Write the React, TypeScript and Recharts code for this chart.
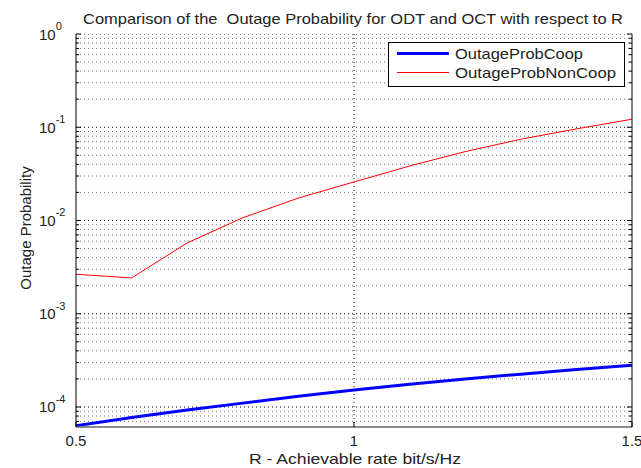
import React from 'react';
import { LineChart, Line, XAxis, YAxis, ReferenceLine } from 'recharts';

// ---- data ----
const rates = [0.5, 0.6, 0.7, 0.8, 0.9, 1.0, 1.1, 1.2, 1.3, 1.4, 1.5];
const outageCoop = [6.3e-5, 7.7e-5, 9.3e-5, 1.1e-4, 1.3e-4, 1.52e-4, 1.75e-4, 1.99e-4, 2.25e-4, 2.52e-4, 2.8e-4];
const outageNonCoop = [2.65e-3, 2.42e-3, 5.75e-3, 1.07e-2, 1.74e-2, 2.59e-2, 3.84e-2, 5.48e-2, 7.44e-2, 9.6e-2, 0.122];

const xTicks = [0.5, 1, 1.5];
const yMajorTicks = [1e-4, 1e-3, 1e-2, 1e-1, 1];
const yMinorTicks = [
  7e-5, 8e-5, 9e-5,
  2e-4, 3e-4, 4e-4, 5e-4, 6e-4, 7e-4, 8e-4, 9e-4,
  2e-3, 3e-3, 4e-3, 5e-3, 6e-3, 7e-3, 8e-3, 9e-3,
  2e-2, 3e-2, 4e-2, 5e-2, 6e-2, 7e-2, 8e-2, 9e-2,
  2e-1, 3e-1, 4e-1, 5e-1, 6e-1, 7e-1, 8e-1, 9e-1,
];
const yAllTicks = [...yMinorTicks, ...yMajorTicks].sort((a, b) => a - b);
const yDomain = [6.1e-5, 1];

const titleText = 'Comparison of the  Outage Probability for ODT and OCT with respect to R';
const xLabel = 'R - Achievable rate bit/s/Hz';
const yLabel = 'Outage Probability';
const seriesNames = ['OutageProbCoop', 'OutageProbNonCoop'];
const seriesColors = ['#0000ff', '#ff0000'];
const seriesWidths = [3, 1];

const data = rates.map((r, i) => ({ r, coop: outageCoop[i], noncoop: outageNonCoop[i] }));

const FONT = '"Liberation Sans", Arial, Helvetica, sans-serif';
const TEXT = '#222';

const isMajor = (v: number) => Math.abs(Math.log10(v) - Math.round(Math.log10(v))) < 1e-9;

const LeftYTick = (props: any) => {
  const { x, y, payload } = props;
  const v = payload.value;
  const major = isMajor(v);
  const len = major ? 5 : 3;
  return (
    <g>
      <line x1={x} x2={x + len} y1={y} y2={y} stroke="#000" strokeWidth={1} />
      {major && (
        <text x={x - 37} y={y + 5.5} fontSize={15} fill={TEXT} fontFamily={FONT}>
          10
          <tspan dy={-9.5} fontSize={11}>{String(Math.round(Math.log10(v)))}</tspan>
        </text>
      )}
    </g>
  );
};

const RightYTick = (props: any) => {
  const { x, y, payload } = props;
  const major = isMajor(payload.value);
  const len = major ? 5 : 3;
  return <line x1={x} x2={x - len} y1={y} y2={y} stroke="#000" strokeWidth={1} />;
};

const BottomXTick = (props: any) => {
  const { x, y, payload } = props;
  return (
    <g>
      <line x1={x} x2={x} y1={y} y2={y - 5} stroke="#000" strokeWidth={1} />
      <text x={x} y={y + 19} textAnchor="middle" fontSize={15} fill={TEXT} fontFamily={FONT}>
        {String(payload.value)}
      </text>
    </g>
  );
};

const TopXTick = (props: any) => {
  const { x, y } = props;
  return <line x1={x} x2={x} y1={y} y2={y + 5} stroke="#000" strokeWidth={1} />;
};

export default function App() {
  const legendWidths = [128, 161];
  return (
    <div style={{ position: 'absolute', left: 0, top: 0, width: 641, height: 468, background: '#fff' }}>
      <LineChart width={641} height={468} data={data} margin={{ top: 34, right: 0, bottom: 0, left: 0 }}>
        <XAxis
          dataKey="r"
          type="number"
          domain={[0.5, 1.5]}
          ticks={xTicks}
          allowDataOverflow
          height={41}
          tickSize={0}
          tickMargin={0}
          tickLine={false}
          axisLine={{ stroke: '#666', strokeWidth: 1.5 }}
          tick={<BottomXTick />}
          interval={0}
        />
        <XAxis
          xAxisId="top"
          orientation="top"
          dataKey="r"
          type="number"
          domain={[0.5, 1.5]}
          ticks={xTicks}
          allowDataOverflow
          height={0}
          tickSize={0}
          tickMargin={0}
          tickLine={false}
          axisLine={{ stroke: '#000', strokeWidth: 1 }}
          tick={<TopXTick />}
          interval={0}
        />
        <YAxis
          scale="log"
          type="number"
          domain={yDomain}
          ticks={yAllTicks}
          allowDataOverflow
          width={76}
          tickSize={0}
          tickMargin={0}
          tickLine={false}
          axisLine={{ stroke: '#000', strokeWidth: 1 }}
          tick={<LeftYTick />}
          interval={0}
        />
        <YAxis
          yAxisId="right"
          orientation="right"
          scale="log"
          type="number"
          domain={yDomain}
          ticks={yAllTicks}
          allowDataOverflow
          width={9}
          tickSize={0}
          tickMargin={0}
          tickLine={false}
          axisLine={{ stroke: '#000', strokeWidth: 1 }}
          tick={<RightYTick />}
          interval={0}
        />
        {yMinorTicks.map((v) => (
          <ReferenceLine key={'mi' + v} y={v} stroke="#777" strokeWidth={1} strokeDasharray="1 3" ifOverflow="hidden" />
        ))}
        {yMajorTicks.map((v) => (
          <ReferenceLine key={'ma' + v} y={v} stroke="#000" strokeWidth={1} strokeDasharray="1 3" ifOverflow="hidden" />
        ))}
        <ReferenceLine x={1} stroke="#000" strokeWidth={1} strokeDasharray="1 3" />
        <Line name={seriesNames[0]} dataKey="coop" stroke={seriesColors[0]} strokeWidth={seriesWidths[0]} dot={false} isAnimationActive={false} />
        <Line name={seriesNames[1]} dataKey="noncoop" stroke={seriesColors[1]} strokeWidth={seriesWidths[1]} dot={false} isAnimationActive={false} />
      </LineChart>
      <svg width={641} height={468} style={{ position: 'absolute', left: 0, top: 0, pointerEvents: 'none' }}>
        <text x={83} y={24} fontSize={15} fill={TEXT} fontFamily={FONT} textLength={540} lengthAdjust="spacingAndGlyphs" style={{ whiteSpace: 'pre' }}>
          {titleText}
        </text>
        <text x={355} y={464} textAnchor="middle" fontSize={15} fill={TEXT} fontFamily={FONT} textLength={212} lengthAdjust="spacingAndGlyphs">
          {xLabel}
        </text>
        <text transform="translate(31,228) rotate(-90)" textAnchor="middle" fontSize={15} fill={TEXT} fontFamily={FONT}>
          {yLabel}
        </text>
        <g transform="translate(388,42)">
          <rect x={0.5} y={0.5} width={236} height={44} fill="#fff" stroke="#000" strokeWidth={1} />
          {seriesNames.map((name, i) => (
            <g key={name}>
              <line x1={9} x2={61} y1={11.5 + i * 19} y2={11.5 + i * 19} stroke={seriesColors[i]} strokeWidth={seriesWidths[i]} />
              <text x={67} y={17 + i * 19} fontSize={15} fill={TEXT} fontFamily={FONT} textLength={legendWidths[i]} lengthAdjust="spacingAndGlyphs">
                {name}
              </text>
            </g>
          ))}
        </g>
      </svg>
    </div>
  );
}
